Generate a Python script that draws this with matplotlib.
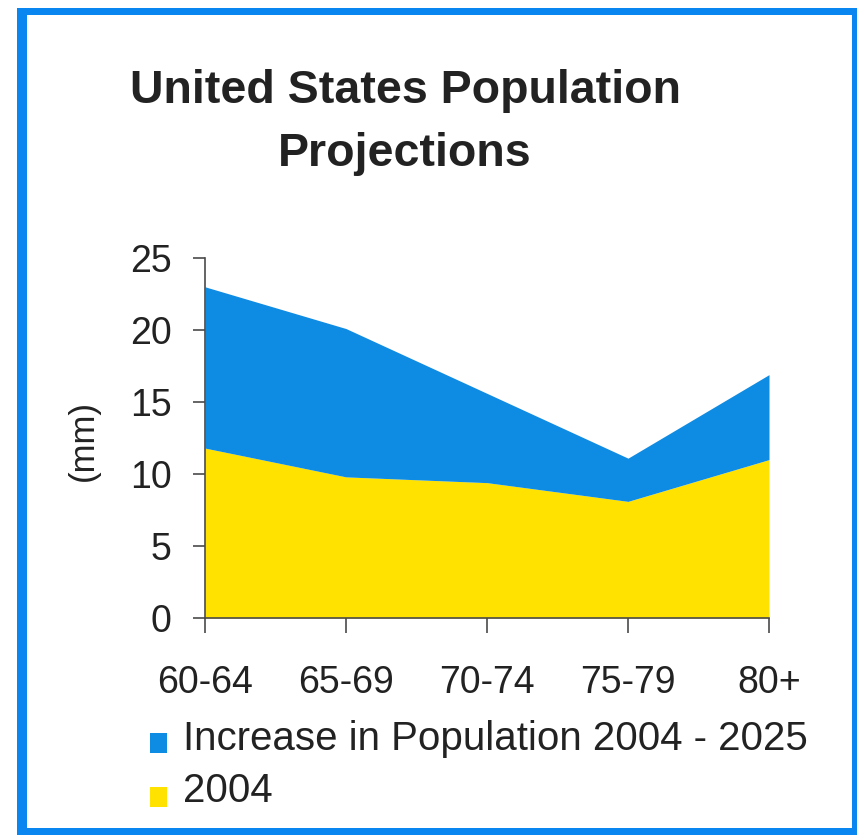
import numpy as np
import matplotlib.pyplot as plt
from matplotlib.patches import Rectangle

plt.rcParams['font.family'] = ['Liberation Sans', 'DejaVu Sans']

# age groups and population values (millions)
age_groups = ['60-64', '65-69', '70-74', '75-79', '80+']
pop_2004 = [11.8, 9.8, 9.4, 8.1, 11.0]
increase_2004_2025 = [11.2, 10.3, 6.2, 3.0, 5.9]
y_ticks = [0, 5, 10, 15, 20, 25]

blue = '#0E8BE3'
yellow = '#FFE200'
frame_blue = '#0A86F0'
text_col = '#222222'
axis_col = '#4a4a4a'

W, H = 857, 835
fig = plt.figure(figsize=(W / 100, H / 100), dpi=100)


def px_rect(x0, y0, x1, y1, color):
    # rectangle given in pixels from the top-left corner
    fig.add_artist(Rectangle((x0 / W, 1 - y1 / H), (x1 - x0) / W, (y1 - y0) / H,
                             transform=fig.transFigure, color=color, lw=0))


# blue frame round the whole chart
px_rect(17, 8, 27, 835, frame_blue)
px_rect(17, 8, 857, 15, frame_blue)
px_rect(852, 8, 857, 835, frame_blue)
px_rect(17, 828, 857, 835, frame_blue)

ax = fig.add_axes([205 / W, 1 - 618 / H, (769 - 205) / W, (618 - 258) / H])
x = np.arange(len(age_groups))
ax.fill_between(x, 0, pop_2004, color=yellow, lw=0)
top = np.array(pop_2004) + np.array(increase_2004_2025)
ax.fill_between(x, pop_2004, top, color=blue, lw=0)

ax.set_xlim(0, len(age_groups) - 1)
ax.set_ylim(0, 25)
ax.set_yticks(y_ticks)
ax.set_xticks(x)
ax.set_xticklabels(age_groups)
for s in ['top', 'right']:
    ax.spines[s].set_visible(False)
for s in ['left', 'bottom']:
    ax.spines[s].set_color(axis_col)
    ax.spines[s].set_linewidth(1.2)
ax.tick_params(axis='y', length=9, width=1.2, color=axis_col, pad=15,
               labelsize=27, labelcolor=text_col)
ax.tick_params(axis='x', length=11, width=1.2, color=axis_col, pad=23,
               labelsize=27, labelcolor=text_col)

ax.set_ylabel('(mm)', fontsize=25, color=text_col)
ax.yaxis.set_label_coords(-0.186, 0.494)

# baseline of the last title line
fig.text(405 / W, 1 - 166 / H, 'United States Population\nProjections',
         ha='center', va='baseline', multialignment='center',
         fontsize=33.5, fontweight='bold', color=text_col, linespacing=1.55)

# legend drawn by hand below the axis
px_rect(150, 733, 167, 753, blue)
px_rect(150, 787, 167, 807, yellow)
fig.text(183 / W, 1 - 750 / H, 'Increase in Population 2004 - 2025',
         ha='left', va='baseline', fontsize=29, color=text_col)
fig.text(183 / W, 1 - 802 / H, '2004',
         ha='left', va='baseline', fontsize=29, color=text_col)

fig.savefig('out.png', dpi=100)
